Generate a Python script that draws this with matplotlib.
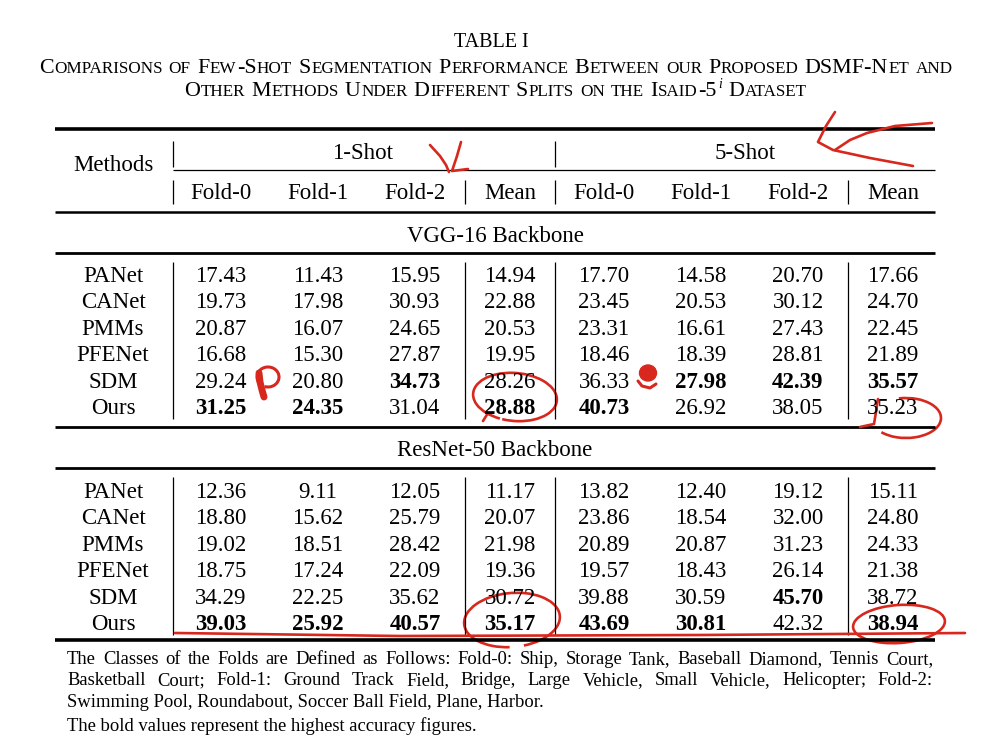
import matplotlib
matplotlib.use("Agg")
import matplotlib.pyplot as plt
from matplotlib.patches import Arc, Ellipse
import numpy as np

FONT = "Liberation Serif"
RED = "#d8281e"

methods = ["PANet", "CANet", "PMMs", "PFENet", "SDM", "Ours"]
col_labels = ["Fold-0", "Fold-1", "Fold-2", "Mean", "Fold-0", "Fold-1", "Fold-2", "Mean"]
shots = ["1-Shot", "5-Shot"]
backbones = ["VGG-16 Backbone", "ResNet-50 Backbone"]

vgg16 = [
    [17.43, 11.43, 15.95, 14.94, 17.70, 14.58, 20.70, 17.66],
    [19.73, 17.98, 30.93, 22.88, 23.45, 20.53, 30.12, 24.70],
    [20.87, 16.07, 24.65, 20.53, 23.31, 16.61, 27.43, 22.45],
    [16.68, 15.30, 27.87, 19.95, 18.46, 18.39, 28.81, 21.89],
    [29.24, 20.80, 34.73, 28.26, 36.33, 27.98, 42.39, 35.57],
    [31.25, 24.35, 31.04, 28.88, 40.73, 26.92, 38.05, 35.23],
]
resnet50 = [
    [12.36, 9.11, 12.05, 11.17, 13.82, 12.40, 19.12, 15.11],
    [18.80, 15.62, 25.79, 20.07, 23.86, 18.54, 32.00, 24.80],
    [19.02, 18.51, 28.42, 21.98, 20.89, 20.87, 31.23, 24.33],
    [18.75, 17.24, 22.09, 19.36, 19.57, 18.43, 26.14, 21.38],
    [34.29, 22.25, 35.62, 30.72, 39.88, 30.59, 45.70, 38.72],
    [39.03, 25.92, 40.57, 35.17, 43.69, 30.81, 42.32, 38.94],
]

title_top = "TABLE I"
title_1 = "Comparisons of Few-Shot Segmentation Performance Between our Proposed DSMF-Net and"
title_2 = "Other Methods Under Different Splits on the Isaid-5^i Dataset"

note_lines = [
    "The Classes of the Folds are Defined as Follows: Fold-0: Ship, Storage Tank, Baseball Diamond, Tennis Court,",
    "Basketball Court; Fold-1: Ground Track Field, Bridge, Large Vehicle, Small Vehicle, Helicopter; Fold-2:",
    "Swimming Pool, Roundabout, Soccer Ball Field, Plane, Harbor.",
    "The bold values represent the highest accuracy figures.",
]

fig = plt.figure(figsize=(9.83, 7.40), dpi=100)
ax = fig.add_axes([0, 0, 1, 1])
ax.set_xlim(0, 983)
ax.set_ylim(740, 0)
ax.axis("off")
renderer = fig.canvas.get_renderer()


def measure(s, size, **kw):
    t = ax.text(0, 0, s, fontsize=size, family=FONT, **kw)
    w = t.get_window_extent(renderer).width
    t.remove()
    return w


def put(x, y, s, size, ha="center", **kw):
    ax.text(x, y, s, fontsize=size, family=FONT, ha=ha, va="baseline", **kw)


def smallcaps(xc, y, s, size, ratio=0.78):
    # capitals at full size, lowercase letters as smaller capitals
    space = measure("a a", size) - measure("aa", size)
    items = []
    x = 0
    for i, word in enumerate(s.split(" ")):
        if i:
            x += space
        sup = None
        if "^" in word:
            word, sup = word.split("^")
        runs = []
        for ch in word:
            small = ch.islower()
            if runs and runs[-1][1] == small:
                runs[-1][0] += ch
            else:
                runs.append([ch, small])
        for run, small in runs:
            sz = size * ratio if small else size
            txt = run.upper()
            items.append((x, txt, sz, "normal", 0))
            x += measure(txt, sz) + 0.6
        if sup:
            sz = size * 0.62
            items.append((x + 1, sup, sz, "italic", -8))
            x += measure(sup, sz, style="italic") + 2
    x0 = xc - x / 2
    for dx, txt, sz, st, dy in items:
        ax.text(x0 + dx, y + dy, txt, fontsize=sz, family=FONT, style=st,
                ha="left", va="baseline")


def justified(y, line, x0, x1, size):
    words = line.split(" ")
    widths = [measure(w, size) for w in words]
    gap = (x1 - x0 - sum(widths)) / (len(words) - 1)
    x = x0
    for w, wd in zip(words, widths):
        put(x, y, w, size, ha="left")
        x += wd + gap


# caption
put(491, 47, title_top, 14.5)
smallcaps(496, 73, title_1, 15.8)
smallcaps(496, 96, title_2, 15.8)

# table geometry
L, R = 55, 935
col_x = [221, 318, 415, 510, 604, 701, 798, 893]
vlines = [173, 465, 555, 848]
size = 16.5

ax.hlines(129, L, R, color="black", lw=2.6)
ax.hlines(170, 173, R, color="black", lw=0.9)
ax.hlines(212, L, R, color="black", lw=1.8)
ax.vlines([173, 555], 141, 167, color="black", lw=0.9)
ax.vlines(vlines, 180, 204, color="black", lw=0.9)

put(113, 171, "Methods", size)
put(363, 159, shots[0], size)
put(745, 159, shots[1], size)
for x, lab in zip(col_x, col_labels):
    put(x, 199, lab, size)

blocks = [(vgg16, 242, 253, 282, 427), (resnet50, 456, 468, 498, 640)]
for (data, y_title, y_rule, y_first, y_end), name in zip(blocks, backbones):
    put(495, y_title, name, size)
    ax.hlines(y_rule, L, R, color="black", lw=2.0)
    arr = np.array(data)
    best = arr.max(axis=0)
    step = 26.4
    for i, (m, row) in enumerate(zip(methods, data)):
        y = y_first + i * step
        put(113, y, m, size)
        for j, v in enumerate(row):
            put(col_x[j], y, f"{v:.2f}", size,
                weight="bold" if v == best[j] else "normal")
    ax.vlines(vlines, y_rule + 9, y_first + 5 * step + 5, color="black", lw=0.9)
    ax.hlines(y_end, L, R, color="black", lw=2.6 if y_end > 600 else 2.0)

# footnote
note_size = 13.4
note_y = [664, 685, 707, 731]
for k, (y, line) in enumerate(zip(note_y, note_lines)):
    if k < 2:
        justified(y, line, 67, 933, note_size)
    else:
        put(67, y, line, note_size, ha="left")

# red pen marks drawn on the page
pen = dict(color=RED, lw=1.9, solid_capstyle="round", solid_joinstyle="round")
strokes = [
    [(430, 145), (440, 156), (446, 165), (449, 172)],
    [(461, 142), (457, 156), (452, 171), (468, 169)],
    [(835, 112), (826, 126), (818, 142), (833, 150), (870, 158), (913, 166)],
    [(835, 150), (850, 140), (867, 133), (895, 126), (932, 123)],
    [(175, 633), (400, 636), (700, 635), (965, 633)],
    [(878, 399), (876, 412), (874, 424), (860, 427)],
    [(483, 421), (488, 413)],
]
for s in strokes:
    xs, ys = zip(*s)
    ax.plot(xs, ys, **pen)

# small blots next to 29.24 and 36.33
ax.plot([259, 260, 262, 264], [373, 382, 390, 397], color=RED, lw=5,
        solid_capstyle="round")
ax.add_patch(Arc((268, 377), 22, 20, theta1=150, theta2=470, color=RED, lw=2.2))
ax.add_patch(Ellipse((648, 373), 17, 16, color=RED))
ax.plot([638, 642, 650, 656], [381, 386, 388, 384], color=RED, lw=2.2,
        solid_capstyle="round")

loops = [
    (515, 397, 84, 48, 5, 120, 475),
    (906, 418, 70, 40, 0, -110, 150),
    (512, 620, 96, 54, -5, 100, 430),
    (899, 624, 92, 38, -4, 0, 360),
]
for cx, cy, w, h, ang, t1, t2 in loops:
    ax.add_patch(Arc((cx, cy), w, h, angle=ang, theta1=t1, theta2=t2,
                     color=RED, lw=1.9))

fig.savefig("out.png", dpi=100)
